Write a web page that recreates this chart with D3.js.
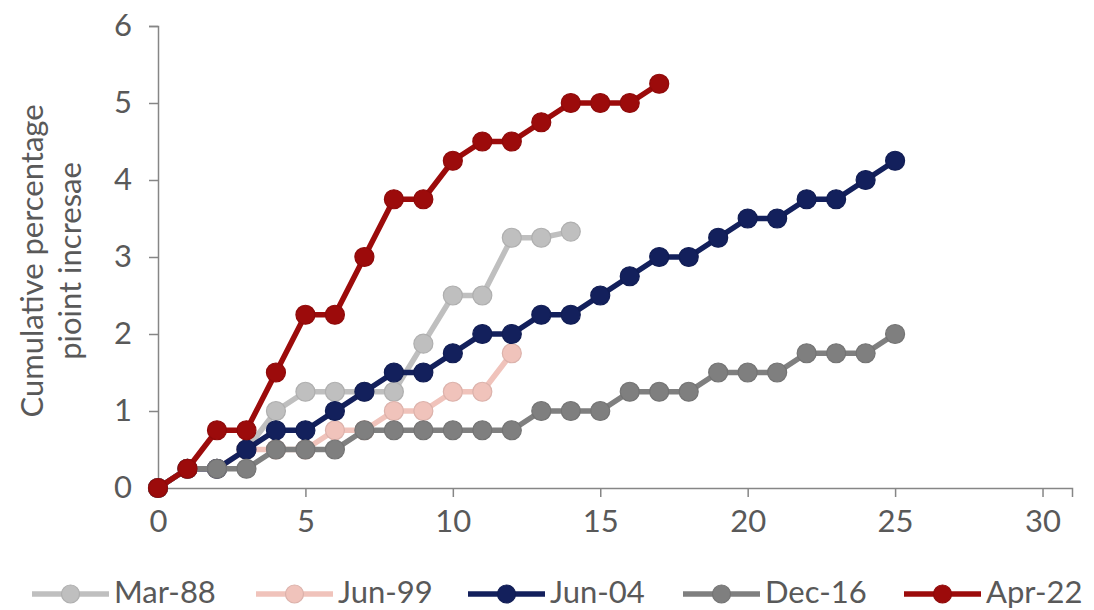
<!DOCTYPE html>
<html>
<head>
<meta charset="utf-8">
<script src="https://cdn.jsdelivr.net/npm/d3@7"></script>
<style>
  html, body { margin: 0; padding: 0; background: #ffffff; }
  svg { display: block; }
  text { font-family: Lato, "Open Sans", sans-serif; fill: #595959; }
</style>
</head>
<body>
<svg id="chart" width="1094" height="610"></svg>
<script>
// Months since the first rate rise, cumulative percentage-point increase per tightening cycle
const seriesNames = ["Mar-88", "Jun-99", "Jun-04", "Dec-16", "Apr-22"];
const seriesColors = ["#bfbfbf", "#f0c3bb", "#13205c", "#7f7f7f", "#9c0b0b"];

const mar88 = [0, 0.25, 0.25, 0.5, 1.0, 1.25, 1.25, 1.25, 1.25, 1.875, 2.5, 2.5, 3.25, 3.25, 3.33];
const jun99 = [0, 0.25, 0.25, 0.5, 0.5, 0.5, 0.75, 0.75, 1.0, 1.0, 1.25, 1.25, 1.75];
const jun04 = [0, 0.25, 0.25, 0.5, 0.75, 0.75, 1.0, 1.25, 1.5, 1.5, 1.75, 2.0, 2.0, 2.25, 2.25,
               2.5, 2.75, 3.0, 3.0, 3.25, 3.5, 3.5, 3.75, 3.75, 4.0, 4.25];
const dec16 = [0, 0.25, 0.25, 0.25, 0.5, 0.5, 0.5, 0.75, 0.75, 0.75, 0.75, 0.75, 0.75, 1.0, 1.0,
               1.0, 1.25, 1.25, 1.25, 1.5, 1.5, 1.5, 1.75, 1.75, 1.75, 2.0];
const apr22 = [0, 0.25, 0.75, 0.75, 1.5, 2.25, 2.25, 3.0, 3.75, 3.75, 4.25, 4.5, 4.5, 4.75, 5.0,
               5.0, 5.0, 5.25];

const xTicks = [0, 5, 10, 15, 20, 25, 30];
const yTicks = [0, 1, 2, 3, 4, 5, 6];
const yTitleLines = ["Cumulative percentage", "pioint incresae"];

const allSeries = [mar88, jun99, jun04, dec16, apr22].map((vals, i) => ({
  name: seriesNames[i],
  color: seriesColors[i],
  points: vals.map((v, m) => ({ x: m, y: v }))
}));

const svg = d3.select("#chart");
const axisColor = "#868686";

const x = d3.scaleLinear().domain([0, 31]).range([158, 1072]);
const y = d3.scaleLinear().domain([0, 6]).range([488, 26]);

// Y axis
const yAxis = svg.append("g")
  .attr("transform", `translate(${x(0)},0)`)
  .call(d3.axisLeft(y).tickValues(yTicks).tickFormat(d3.format("d")).tickSize(9).tickPadding(17));
yAxis.select(".domain").attr("stroke", axisColor).attr("stroke-width", 1.5);
yAxis.selectAll(".tick line").attr("stroke", axisColor).attr("stroke-width", 1.5);
yAxis.selectAll(".tick text").style("font-size", "31px").attr("fill", "#595959");

// X axis
const xAxis = svg.append("g")
  .attr("transform", `translate(0,${y(0)})`)
  .call(d3.axisBottom(x).tickValues(xTicks).tickFormat(d3.format("d")).tickSize(9).tickPadding(13));
xAxis.select(".domain").attr("stroke", axisColor).attr("stroke-width", 1.5);
xAxis.selectAll(".tick line").attr("stroke", axisColor).attr("stroke-width", 1.5);
xAxis.selectAll(".tick text").style("font-size", "31px").attr("fill", "#595959");

// Y axis title, two lines
const yTitle = svg.append("text")
  .attr("transform", `translate(48,${(y(0) + y(6)) / 2 + 4}) rotate(-90)`)
  .attr("text-anchor", "middle")
  .style("font-size", "31px");
yTitleLines.forEach((line, i) => {
  yTitle.append("tspan")
    .attr("x", 0)
    .attr("dy", i === 0 ? "-0.15em" : "1.2em")
    .text(line);
});

// Series lines and markers
const line = d3.line().x(d => x(d.x)).y(d => y(d.y));
allSeries.forEach(s => {
  const g = svg.append("g");
  g.append("path")
    .datum(s.points)
    .attr("d", line)
    .attr("fill", "none")
    .attr("stroke", s.color)
    .attr("stroke-width", 5.5)
    .attr("stroke-linejoin", "round");
  g.selectAll("circle")
    .data(s.points)
    .join("circle")
    .attr("cx", d => x(d.x))
    .attr("cy", d => y(d.y))
    .attr("r", 9.5)
    .attr("fill", s.color)
    .attr("stroke", d3.color(s.color).darker(0.25))
    .attr("stroke-width", 1.2);
});

// Legend
const legendX = [32, 256, 468, 683, 904];
const legendY = 594;
allSeries.forEach((s, i) => {
  const lx = legendX[i];
  const g = svg.append("g");
  g.append("line")
    .attr("x1", lx).attr("x2", lx + 77)
    .attr("y1", legendY).attr("y2", legendY)
    .attr("stroke", s.color).attr("stroke-width", 5.5);
  g.append("circle")
    .attr("cx", lx + 38.5).attr("cy", legendY).attr("r", 9)
    .attr("fill", s.color)
    .attr("stroke", d3.color(s.color).darker(0.25))
    .attr("stroke-width", 1.2);
  g.append("text")
    .attr("x", lx + 82)
    .attr("y", legendY)
    .attr("dy", "0.3em")
    .style("font-size", "31px")
    .text(s.name);
});
</script>
</body>
</html>
